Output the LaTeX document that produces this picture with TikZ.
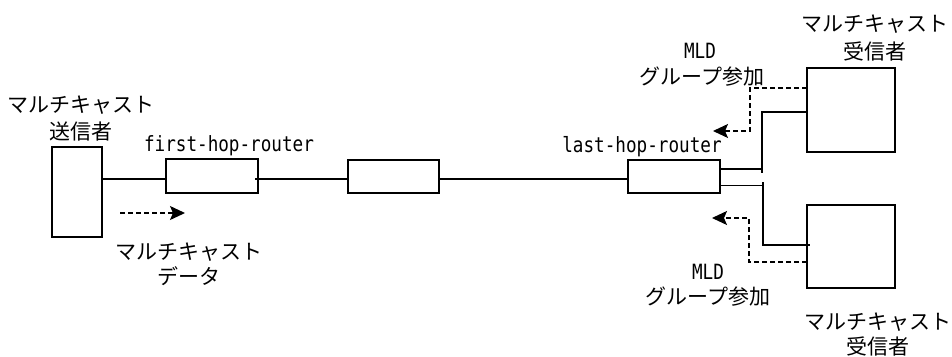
\documentclass[tikz,border=0pt]{standalone}
\usepackage{fontspec}
\setmainfont{DejaVu Sans Mono}[FakeStretch=0.84]
\newfontfamily\jp{Noto Sans CJK JP}
\usetikzlibrary{arrows.meta,calc}
\tikzset{
  box/.style={draw, line width=1.5pt, inner sep=0pt, outer sep=0pt},
  jpt/.style={anchor=base, inner sep=0pt, font={\jp\fontsize{21}{26}\selectfont}},
  lat/.style={anchor=base, inner sep=0pt, font={\fontsize{21}{26}\selectfont}},
  wire/.style={line width=1.5pt},
  dasharr/.style={line width=1.5pt, dash pattern=on 5pt off 3pt, -{Stealth[length=15pt,width=14pt,inset=3pt]}}
}
\begin{document}
\begin{tikzpicture}[x=1pt,y=-1pt]
\useasboundingbox (0,0) rectangle (952,356);
% boxes
\node[box, minimum width=50pt, minimum height=90pt] (snd) at (77,192) {};
\node[box, minimum width=92pt, minimum height=34pt] (r1) at (212,176) {};
\node[box, minimum width=91pt, minimum height=33pt] (r2) at (393.5,176.5) {};
\node[box, minimum width=92pt, minimum height=33pt] (r3) at (674,176.5) {};
\node[box, minimum width=88pt, minimum height=84pt] (rc1) at (851,110) {};
\node[box, minimum width=88pt, minimum height=83pt] (rc2) at (851,246.5) {};
% main line
\coordinate (ly) at (0,179);
\draw[wire] (snd.east |- ly) -- (r1.west |- ly);
\draw[wire] ($(r1.east |- ly)+(-3,0)$) -- (r2.west |- ly);
\draw[wire] (r2.east |- ly) -- (r3.west |- ly);
% branches to receivers
\coordinate (u1) at (762,169);
\coordinate (u1t) at (762,172.5);
\coordinate (u2) at (762,112);
\draw[wire] ($(r3.east)+(0,-7.5)$) -- (u1);
\draw[wire] (u1t) -- (u2) -- (rc1.west |- u2);
\coordinate (l1) at (763,185.5);
\coordinate (l1t) at (763,182);
\coordinate (l2) at (763,245);
\draw[wire] ($(r3.east)+(0,9)$) -- (l1);
\draw[wire] (l1t) -- (l2) -- ($(rc2.west |- l2)+(3,0)$);
% dashed arrows
\coordinate (d1a) at (750,131);
\coordinate (d1t) at (713,131);
\draw[dasharr] ($(rc1.west)+(0,-22)$) -| (d1a) -- (d1t);
\coordinate (d2a) at (749,218);
\coordinate (d2t) at (712,218);
\draw[dasharr] ($(rc2.west)+(0,15.5)$) -| (d2a) -- (d2t);
\coordinate (da) at (120,213);
\coordinate (db) at (185,213);
\draw[dasharr] (da) -- (db);
% labels
\node[jpt] (sndl1) at (81,112) {マルチキャスト};
\node[jpt] (sndl2) at (81,139) {送信者};
\node[lat] (r1l) at (229,151) {first-hop-router};
\node[jpt] (datl1) at (189,259) {マルチキャスト};
\node[jpt] (datl2) at (189,284) {データ};
\node[lat] (r3l) at (642,152) {last-hop-router};
\node[lat] (mld1a) at (700,58) {MLD};
\node[jpt] (mld1b) at (702,84) {グループ参加};
\node[jpt] (rc1l1) at (874.5,31) {マルチキャスト};
\node[jpt] (rc1l2) at (874.5,59) {受信者};
\node[lat] (mld2a) at (708,279) {MLD};
\node[jpt] (mld2b) at (708,304) {グループ参加};
\node[jpt] (rc2l1) at (877.5,329) {マルチキャスト};
\node[jpt] (rc2l2) at (877.5,354) {受信者};
\end{tikzpicture}
\end{document}
